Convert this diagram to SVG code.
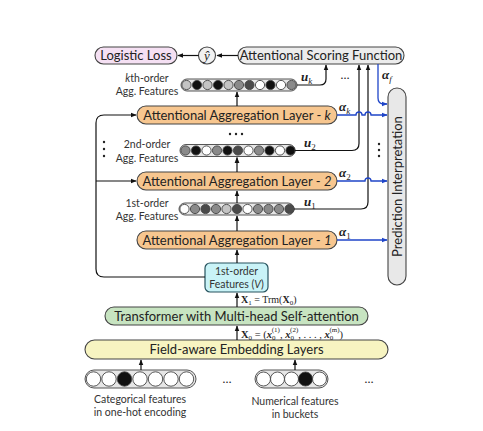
<svg xmlns="http://www.w3.org/2000/svg" width="483" height="431" viewBox="0 0 483 431">
<style>
.lbl{font-family:Lato,"Liberation Sans",sans-serif;fill:#222;text-anchor:middle}
.big{font-size:13px}
.sm{font-size:10.5px;fill:#333}
.math{font-family:"Liberation Serif","DejaVu Serif",serif;fill:#222}
.box{stroke:#444;stroke-width:1.1}
.bar{fill:#e6e6e6;stroke:#555;stroke-width:1}
.c{stroke:#444;stroke-width:0.9}
.W{fill:#ffffff}.L{fill:#c4c4c4}.M{fill:#8a8a8a}.D{fill:#4a4a4a}.K{fill:#111}
.ln{fill:none;stroke:#111;stroke-width:1.2}
.bl{fill:none;stroke:#1f45c8;stroke-width:1.3}
.vec{font-size:13px;font-weight:bold;font-style:italic}
.sub{font-size:9px;font-weight:normal;font-style:normal}
.subi{font-size:9px;font-weight:normal;font-style:italic}
</style>
<defs>
<marker id="ah" viewBox="0 0 10 10" refX="9" refY="5" markerWidth="6" markerHeight="6" markerUnits="userSpaceOnUse" orient="auto"><path d="M0,1 L10,5 L0,9 z" fill="#111"/></marker>
<marker id="ab" viewBox="0 0 10 10" refX="9" refY="5" markerWidth="6" markerHeight="6" markerUnits="userSpaceOnUse" orient="auto"><path d="M0,1 L10,5 L0,9 z" fill="#1f45c8"/></marker>
</defs>
<rect width="483" height="431" fill="#fff"/>

<g id="logistic-loss"><rect class="box" x="95" y="47" width="82" height="17" rx="8.5" fill="#f5e0f3"/><text class="lbl big" x="136" y="60">Logistic Loss</text></g>
<g id="yhat"><circle class="box" cx="207" cy="55.5" r="8.5" fill="#f2f2f2"/><text class="math" x="207" y="59.5" font-size="13" font-style="italic" text-anchor="middle">ŷ</text></g>
<g id="scoring"><rect class="box" x="238" y="47" width="166" height="17" rx="8.5" fill="#ececec"/><text class="lbl big" x="321" y="60">Attentional Scoring Function</text></g>

<g id="kth-features">
<text class="lbl sm" x="147" y="82"><tspan font-style="italic">k</tspan>th-order</text>
<text class="lbl sm" x="147" y="95">Agg. Features</text>
<rect class="bar" x="181" y="79" width="116" height="12" rx="6"/>
<circle class="c L" cx="186.5" cy="85" r="4.6"/><circle class="c K" cx="197" cy="85" r="4.6"/><circle class="c L" cx="207.5" cy="85" r="4.6"/><circle class="c K" cx="218" cy="85" r="4.6"/><circle class="c L" cx="228.5" cy="85" r="4.6"/><circle class="c M" cx="239" cy="85" r="4.6"/><circle class="c D" cx="249.5" cy="85" r="4.6"/><circle class="c W" cx="260" cy="85" r="4.6"/><circle class="c K" cx="270.5" cy="85" r="4.6"/><circle class="c W" cx="281" cy="85" r="4.6"/><circle class="c M" cx="291.5" cy="85" r="4.6"/>
</g>

<g id="layer-k"><rect class="box" x="137" y="106" width="200" height="18" rx="9" fill="#f7c68f"/><text class="lbl big" x="237" y="119.5">Attentional Aggregation Layer - <tspan font-style="italic">k</tspan></text></g>

<g id="second-features">
<text class="lbl sm" x="147" y="148">2nd-order</text>
<text class="lbl sm" x="147" y="162">Agg. Features</text>
<rect class="bar" x="180" y="144.5" width="115" height="12" rx="6"/>
<circle class="c M" cx="185.5" cy="150.5" r="4.6"/><circle class="c K" cx="196" cy="150.5" r="4.6"/><circle class="c W" cx="206.5" cy="150.5" r="4.6"/><circle class="c M" cx="217" cy="150.5" r="4.6"/><circle class="c K" cx="227.5" cy="150.5" r="4.6"/><circle class="c D" cx="238" cy="150.5" r="4.6"/><circle class="c W" cx="248.5" cy="150.5" r="4.6"/><circle class="c M" cx="259" cy="150.5" r="4.6"/><circle class="c K" cx="269.5" cy="150.5" r="4.6"/><circle class="c W" cx="280" cy="150.5" r="4.6"/><circle class="c K" cx="290.5" cy="150.5" r="4.6"/>
</g>

<g id="layer-2"><rect class="box" x="137" y="172" width="200" height="18" rx="9" fill="#f7c68f"/><text class="lbl big" x="237" y="185.5">Attentional Aggregation Layer - <tspan font-style="italic">2</tspan></text></g>

<g id="first-features">
<text class="lbl sm" x="147" y="207">1st-order</text>
<text class="lbl sm" x="147" y="220">Agg. Features</text>
<rect class="bar" x="179" y="203" width="115" height="12" rx="6"/>
<circle class="c W" cx="184.5" cy="209" r="4.6"/><circle class="c M" cx="195" cy="209" r="4.6"/><circle class="c D" cx="205.5" cy="209" r="4.6"/><circle class="c M" cx="216" cy="209" r="4.6"/><circle class="c L" cx="226.5" cy="209" r="4.6"/><circle class="c D" cx="237" cy="209" r="4.6"/><circle class="c W" cx="247.5" cy="209" r="4.6"/><circle class="c M" cx="258" cy="209" r="4.6"/><circle class="c M" cx="268.5" cy="209" r="4.6"/><circle class="c M" cx="279" cy="209" r="4.6"/><circle class="c D" cx="289.5" cy="209" r="4.6"/>
</g>

<g id="layer-1"><rect class="box" x="137" y="231" width="200" height="18" rx="9" fill="#f7c68f"/><text class="lbl big" x="237" y="244.5">Attentional Aggregation Layer - <tspan font-style="italic">1</tspan></text></g>

<g id="first-order-features"><rect x="205" y="263" width="63" height="29" rx="5" fill="#c9f3f7" stroke="#26535e" stroke-width="1.2"/><text class="lbl sm" x="236.5" y="275">1st-order</text><text class="lbl sm" x="236.5" y="288">Features (<tspan font-style="italic">V</tspan>)</text></g>

<g id="transformer"><rect class="box" x="105" y="307" width="263" height="18" rx="9" fill="#c7e4c1"/><text class="lbl big" x="236.5" y="320.5">Transformer with Multi-head Self-attention</text></g>

<g id="embedding"><rect class="box" x="85" y="340" width="303" height="19" rx="9.5" fill="#f7f4c1"/><text class="lbl big" x="236.5" y="354">Field-aware Embedding Layers</text></g>

<g id="categorical">
<rect class="bar" x="85" y="370" width="111" height="18" rx="9" fill="#fafafa"/>
<circle class="c W" cx="93.5" cy="379" r="7.2"/><circle class="c W" cx="109" cy="379" r="7.2"/><circle class="c K" cx="124.5" cy="379" r="7.2"/><circle class="c W" cx="140" cy="379" r="7.2"/><circle class="c W" cx="155.5" cy="379" r="7.2"/><circle class="c W" cx="171" cy="379" r="7.2"/><circle class="c W" cx="186.5" cy="379" r="7.2"/>
<text class="lbl sm" x="140" y="403">Categorical features</text>
<text class="lbl sm" x="140" y="416">in one-hot encoding</text>
</g>

<g id="numerical">
<rect class="bar" x="255" y="370" width="73" height="18" rx="9" fill="#fafafa"/>
<circle class="c W" cx="263.5" cy="379" r="7"/><circle class="c W" cx="277.5" cy="379" r="7"/><circle class="c W" cx="291.5" cy="379" r="7"/><circle class="c K" cx="305.5" cy="379" r="7"/><circle class="c W" cx="319.5" cy="379" r="7"/>
<text class="lbl sm" x="295" y="405">Numerical features</text>
<text class="lbl sm" x="295" y="418">in buckets</text>
</g>

<g id="prediction-interpretation"><rect class="box" x="388" y="88" width="18" height="197" rx="9" fill="#e8e8e8"/><text class="lbl big" transform="translate(401.5,186.5) rotate(-90)" x="0" y="0">Prediction Interpretation</text></g>

<g id="dots" fill="#222">
<text class="lbl" x="227" y="383" font-size="12">…</text>
<text class="lbl" x="369" y="383" font-size="12">…</text>
<text class="lbl" x="345" y="79" font-size="12">…</text>
<circle cx="230" cy="134" r="1.2"/><circle cx="236" cy="134" r="1.2"/><circle cx="242" cy="134" r="1.2"/>
<circle cx="104" cy="142" r="1.2"/><circle cx="104" cy="149" r="1.2"/><circle cx="104" cy="156" r="1.2"/>
<circle cx="379" cy="144" r="1.2"/><circle cx="379" cy="150" r="1.2"/><circle cx="379" cy="156" r="1.2"/>
</g>

<g id="connectors">
<path class="ln" d="M238,55.5 H217" marker-end="url(#ah)"/>
<path class="ln" d="M198.5,55.5 H178" marker-end="url(#ah)"/>
<path class="ln" d="M237,106 V92" marker-end="url(#ah)"/>
<path class="ln" d="M237,172 V157.5" marker-end="url(#ah)"/>
<path class="ln" d="M237,203 V191" marker-end="url(#ah)"/>
<path class="ln" d="M237,231 V216" marker-end="url(#ah)"/>
<path class="ln" d="M237,263 V250" marker-end="url(#ah)"/>
<path class="ln" d="M237,307 V293" marker-end="url(#ah)"/>
<path class="ln" d="M237,340 V326" marker-end="url(#ah)"/>
<path class="ln" d="M141,370 V360" marker-end="url(#ah)"/>
<path class="ln" d="M295,370 V360" marker-end="url(#ah)"/>
<path class="ln" d="M205,277 H104 Q96,277 96,269 V123 Q96,115 104,115 H136" marker-end="url(#ah)"/>
<path class="ln" d="M96,181 H136" marker-end="url(#ah)"/>
<path class="ln" d="M297,85 H320 Q326,85 326,79 V65" marker-end="url(#ah)"/>
<path class="ln" d="M295,150.5 H352 Q359,150.5 359,143.5 V65" marker-end="url(#ah)"/>
<path class="ln" d="M294,209 H361 Q368,209 368,202 V65" marker-end="url(#ah)"/>
<path class="bl" d="M378,64 V98 Q378,104 384,104 H387" marker-end="url(#ab)"/>
<path class="bl" d="M337,115 H356 A3,3 0 0 1 362,115 H365 A3,3 0 0 1 371,115 H387" marker-end="url(#ab)"/>
<path class="bl" d="M337,181 H365 A3,3 0 0 1 371,181 H387" marker-end="url(#ab)"/>
<path class="bl" d="M337,240 H387" marker-end="url(#ab)"/>
<text class="math vec" x="301" y="81">u<tspan class="subi" dy="3">k</tspan></text>
<text class="math vec" x="304" y="147">u<tspan class="sub" dy="3">2</tspan></text>
<text class="math vec" x="304" y="206">u<tspan class="sub" dy="3">1</tspan></text>
<text class="math vec" x="339" y="111">α<tspan class="subi" dy="3">k</tspan></text>
<text class="math vec" x="339" y="177">α<tspan class="sub" dy="3">2</tspan></text>
<text class="math vec" x="339" y="236">α<tspan class="sub" dy="3">1</tspan></text>
<text class="math vec" x="382" y="79">α<tspan class="subi" dy="3">f</tspan></text>
<text class="math" x="241" y="302.5" font-size="10"><tspan font-weight="bold">X</tspan><tspan font-size="7" dy="2">1</tspan><tspan dy="-2"> = Trm(</tspan><tspan font-weight="bold">X</tspan><tspan font-size="7" dy="2">0</tspan><tspan dy="-2">)</tspan></text>
<text class="math" x="241" y="337.5" font-size="10.5"><tspan font-weight="bold">X</tspan><tspan font-size="7" dy="2">0</tspan><tspan dy="-2"> = (</tspan><tspan font-weight="bold" font-style="italic">x</tspan><tspan font-size="7" dy="2">0</tspan><tspan font-size="7" dx="-3.8" dy="-7.5">(1)</tspan><tspan dy="5.5">, </tspan><tspan font-weight="bold" font-style="italic">x</tspan><tspan font-size="7" dy="2">0</tspan><tspan font-size="7" dx="-3.8" dy="-7.5">(2)</tspan><tspan dy="5.5">, . . . , </tspan><tspan font-weight="bold" font-style="italic">x</tspan><tspan font-size="7" dy="2">0</tspan><tspan font-size="7" dx="-3.8" dy="-7.5">(m)</tspan><tspan dy="5.5">)</tspan></text>
</g>
</svg>
